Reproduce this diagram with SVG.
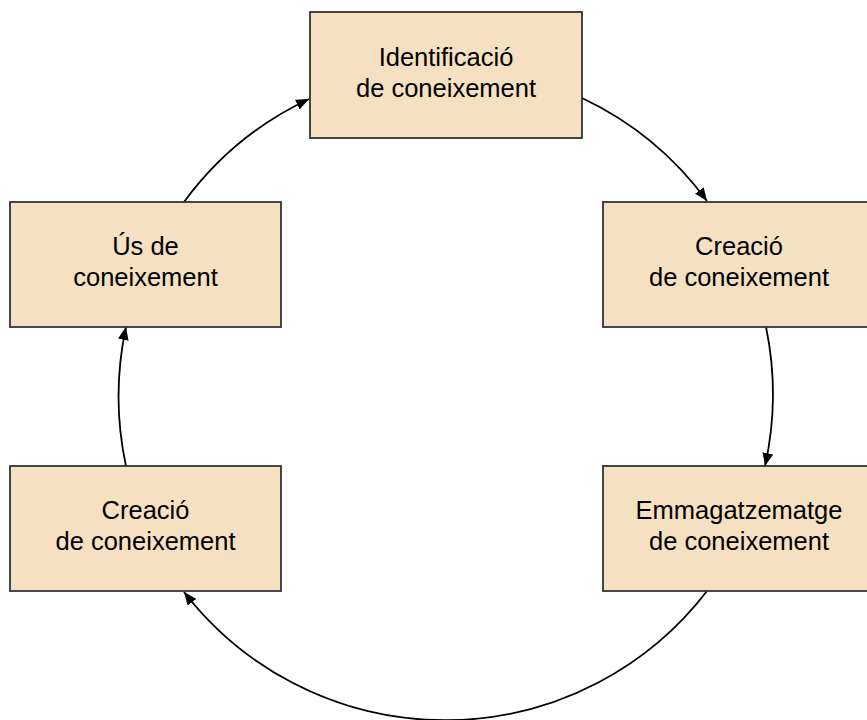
<svg xmlns="http://www.w3.org/2000/svg" width="867" height="720" viewBox="0 0 867 720">
<style>
.box{fill:#F5E1C1;stroke:#333333;stroke-width:1.8}
.lbl{font-family:"Liberation Sans",Arial,sans-serif;font-size:25.5px;fill:#000000;text-anchor:middle}
.conn{fill:none;stroke:#000000;stroke-width:1.8}
</style>
<defs>
<marker id="ah" viewBox="0 0 12 10" refX="12" refY="5" markerWidth="13" markerHeight="11" markerUnits="userSpaceOnUse" orient="auto">
<path d="M0,0 L12,5 L0,10 z" fill="#000000"/>
</marker>
</defs>
<rect width="867" height="720" fill="#ffffff"/>
<g id="connectors">
<path class="conn" d="M582,98 A330,330 0 0 1 707,201" style="marker-end:url(#ah)"/>
<path class="conn" d="M766,327 A330,330 0 0 1 765,466" style="marker-end:url(#ah)"/>
<path class="conn" d="M707,591 A330,330 0 0 1 184,592" style="marker-end:url(#ah)"/>
<path class="conn" d="M126,466 A330,330 0 0 1 126,327" style="marker-end:url(#ah)"/>
<path class="conn" d="M184,202 A330,330 0 0 1 309,99" style="marker-end:url(#ah)"/>
</g>
<g id="node-identificacio">
<rect class="box" x="310" y="12" width="272" height="126"/>
<text class="lbl" x="446" y="66">Identificació</text>
<text class="lbl" x="446" y="97">de coneixement</text>
</g>
<g id="node-creacio-right">
<rect class="box" x="603" y="202" width="272" height="125"/>
<text class="lbl" x="739" y="255">Creació</text>
<text class="lbl" x="739" y="286">de coneixement</text>
</g>
<g id="node-emmagatzematge">
<rect class="box" x="603" y="466" width="272" height="125"/>
<text class="lbl" x="739" y="519">Emmagatzematge</text>
<text class="lbl" x="739" y="550">de coneixement</text>
</g>
<g id="node-creacio-left">
<rect class="box" x="10" y="466" width="271" height="125"/>
<text class="lbl" x="145.5" y="519">Creació</text>
<text class="lbl" x="145.5" y="550">de coneixement</text>
</g>
<g id="node-us">
<rect class="box" x="10" y="202" width="271" height="125"/>
<text class="lbl" x="145.5" y="255">Ús de</text>
<text class="lbl" x="145.5" y="286">coneixement</text>
</g>
</svg>
